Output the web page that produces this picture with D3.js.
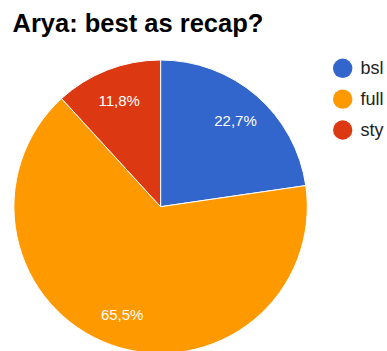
<!DOCTYPE html>
<html>
<head>
<meta charset="utf-8">
<script src="https://cdn.jsdelivr.net/npm/d3@7"></script>
<style>
  html, body { margin: 0; padding: 0; background: #fff; }
  svg { display: block; font-family: Arial, "Liberation Sans", sans-serif; }
</style>
</head>
<body>
<svg id="chart" width="387" height="351"></svg>
<script>
const categories = ["bsl", "full", "sty"];
const values = [22.7, 65.5, 11.8];
const labels = ["22,7%", "65,5%", "11,8%"];
const colors = ["#3366cc", "#ff9900", "#dc3912"];

const svg = d3.select("#chart");

svg.append("text")
  .attr("x", 12.5).attr("y", 31.5)
  .attr("font-size", 25.5).attr("font-weight", "bold")
  .attr("fill", "#000")
  .text("Arya: best as recap?");

const cx = 160.6, cy = 206.7, r = 146.7;

const pie = d3.pie().sort(null).value(d => d.v);
const arcs = pie(categories.map((c, i) => ({ c, v: values[i], label: labels[i], color: colors[i] })));
const arc = d3.arc().innerRadius(0).outerRadius(r);
const labelArc = d3.arc().innerRadius(r * 0.78).outerRadius(r * 0.78);

const g = svg.append("g").attr("transform", `translate(${cx},${cy})`);
g.selectAll("path").data(arcs).join("path")
  .attr("d", arc)
  .attr("fill", d => d.data.color)
  .attr("stroke", "#fff")
  .attr("stroke-width", 1);

g.selectAll("text").data(arcs).join("text")
  .attr("transform", d => `translate(${labelArc.centroid(d)})`)
  .attr("text-anchor", "middle")
  .attr("dominant-baseline", "central")
  .attr("font-size", 15)
  .attr("fill", "#fff")
  .text(d => d.data.label);

const legend = svg.append("g");
const ly = d3.scalePoint().domain(categories).range([68.3, 130]);
const item = legend.selectAll("g").data(categories).join("g")
  .attr("transform", c => `translate(0,${ly(c)})`);
item.append("circle")
  .attr("cx", 342.7).attr("cy", 0).attr("r", 9.7)
  .attr("fill", (c, i) => colors[i]);
item.append("text")
  .attr("x", 360.5).attr("y", 0)
  .attr("dominant-baseline", "central")
  .attr("font-size", 18)
  .attr("fill", "#222")
  .text(c => c);
</script>
</body>
</html>
